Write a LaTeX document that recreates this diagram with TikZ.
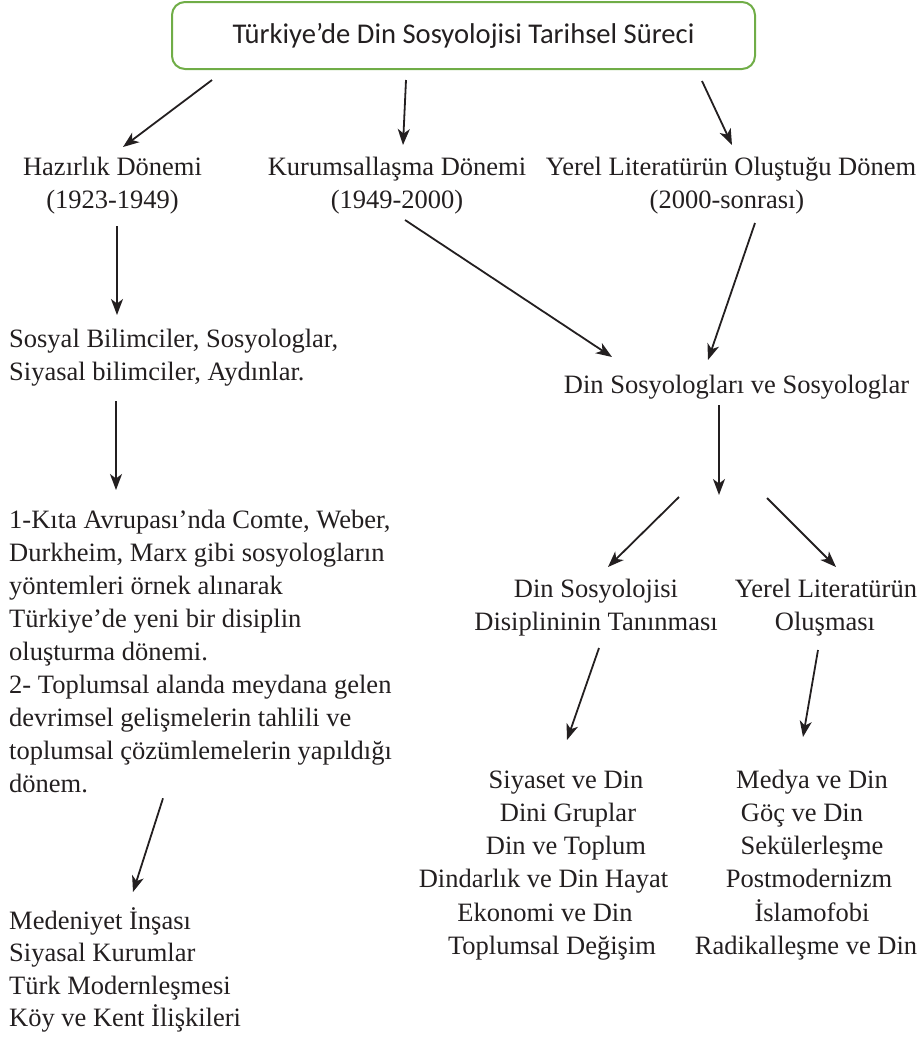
\documentclass[tikz,border=0pt]{standalone}
\usepackage{fontspec}
\setmainfont{Liberation Serif}
\newfontfamily\titlefont{Carlito}
\usetikzlibrary{arrows.meta}
\definecolor{boxgreen}{HTML}{70AD47}
\definecolor{ink}{HTML}{231F20}
\tikzset{
  txt/.style={inner sep=0pt, text=ink, font=\fontsize{26.5}{32}\selectfont},
  ctr/.style={txt, anchor=base},
  lft/.style={txt, anchor=base west},
  titlebox/.style={draw=boxgreen, line width=2pt, rounded corners=13pt, minimum width=583pt, minimum height=67pt, inner sep=0pt, text=ink, font=\titlefont\fontsize{28.6}{32}\selectfont},
  arr/.style={draw=ink, line width=1.8pt, -{Stealth[length=16pt,width=12pt,inset=4.5pt]}}
}
\begin{document}
\begin{tikzpicture}[x=1pt,y=-1pt]
\useasboundingbox (0,0) rectangle (924,1037);
% title
\node[titlebox] (title) at (463.5,35.5) {Türkiye’de Din Sosyolojisi Tarihsel Süreci};
% periods
\node[ctr] (haz1) at (112.5,175) {Hazırlık Dönemi};
\node[ctr] (haz2) at (112.5,208) {(1923-1949)};
\node[ctr] (kur1) at (397,175) {Kurumsallaşma Dönemi};
\node[ctr] (kur2) at (397,208) {(1949-2000)};
\node[ctr] (yer1) at (731,175) {Yerel Literatürün Oluştuğu Dönem};
\node[ctr] (yer2) at (727,208) {(2000-sonrası)};
% left column
\node[lft] (sos1) at (9,347) {Sosyal Bilimciler, Sosyologlar,};
\node[lft] (sos2) at (9,380) {Siyasal bilimciler, Aydınlar.};
\node[lft] (b1) at (9,528) {1-Kıta Avrupası’nda Comte, Weber,};
\node[lft] (b2) at (9,561.1) {Durkheim, Marx gibi sosyologların};
\node[lft] (b3) at (9,594.2) {yöntemleri örnek alınarak};
\node[lft] (b4) at (9,627.3) {Türkiye’de yeni bir disiplin};
\node[lft] (b5) at (9,660.4) {oluşturma dönemi.};
\node[lft] (b6) at (9,693.5) {2- Toplumsal alanda meydana gelen};
\node[lft] (b7) at (9,726.6) {devrimsel gelişmelerin tahlili ve};
\node[lft] (b8) at (9,759.7) {toplumsal çözümlemelerin yapıldığı};
\node[lft] (b9) at (9,792.8) {dönem.};
\node[lft] (m1) at (9,929) {Medeniyet İnşası};
\node[lft] (m2) at (9,961.6) {Siyasal Kurumlar};
\node[lft] (m3) at (9,994.2) {Türk Modernleşmesi};
\node[lft] (m4) at (9,1026.8) {Köy ve Kent İlişkileri};
% right column
\node[ctr] (dsv) at (736.5,393) {Din Sosyologları ve Sosyologlar};
\coordinate (fork) at ([shift={(-17.5,102)}]dsv.base);
\node[ctr] (dd1) at (596,597) {Din Sosyolojisi};
\node[ctr] (dd2) at (596,630) {Disiplininin Tanınması};
\node[ctr] (yl1) at (826,597) {Yerel Literatürün};
\node[ctr] (yl2) at (825,630) {Oluşması};
\node[ctr] (l1) at (566,788) {Siyaset ve Din};
\node[ctr] (l2) at (568,821.3) {Dini Gruplar};
\node[ctr] (l3) at (566,854.6) {Din ve Toplum};
\node[ctr] (l4) at (543.5,887.9) {Dindarlık ve Din Hayat};
\node[ctr] (l5) at (545,921.2) {Ekonomi ve Din};
\node[ctr] (l6) at (552,954.5) {Toplumsal Değişim};
\node[ctr] (r1) at (812,788) {Medya ve Din};
\node[ctr] (r2) at (802,821.3) {Göç ve Din};
\node[ctr] (r3) at (812,854.6) {Sekülerleşme};
\node[ctr] (r4) at (809,887.9) {Postmodernizm};
\node[ctr] (r5) at (812,921.2) {İslamofobi};
\node[ctr] (r6) at (806,954.5) {Radikalleşme ve Din};
% arrows
\draw[arr] ([shift={(-251.5,10)}]title.south) -- ([shift={(10.5,-28)}]haz1.base);
\draw[arr] ([shift={(-57.5,10)}]title.south) -- ([shift={(6,-30)}]kur1.base);
\draw[arr] ([shift={(238.5,11)}]title.south) -- ([shift={(1,-30)}]yer1.base);
\draw[arr] ([shift={(4.5,18)}]haz2.base) -- ([shift={(108,-32)}]sos1.base west);
\draw[arr] ([shift={(107,21)}]sos2.base west) -- ([shift={(107,-38)}]b1.base west);
\draw[arr] ([shift={(154,5.5)}]b9.base west) -- ([shift={(124,-37)}]m1.base west);
\draw[arr] ([shift={(8,12)}]kur2.base) -- ([shift={(-124.5,-36)}]dsv.base);
\draw[arr] ([shift={(28,15)}]yer2.base) -- ([shift={(-28.5,-33)}]dsv.base);
\draw[arr] ([shift={(-17.5,12)}]dsv.base) -- (fork);
\draw[arr] ([shift={(-40,2)}]fork) -- ([shift={(12,-30)}]dd1.base);
\draw[arr] ([shift={(48,3)}]fork) -- ([shift={(10,-30)}]yl1.base);
\draw[arr] ([shift={(3,18)}]dd2.base) -- ([shift={(1,-48)}]l1.base);
\draw[arr] ([shift={(-7,20)}]yl2.base) -- ([shift={(-9,-51)}]r1.base);
\end{tikzpicture}
\end{document}
